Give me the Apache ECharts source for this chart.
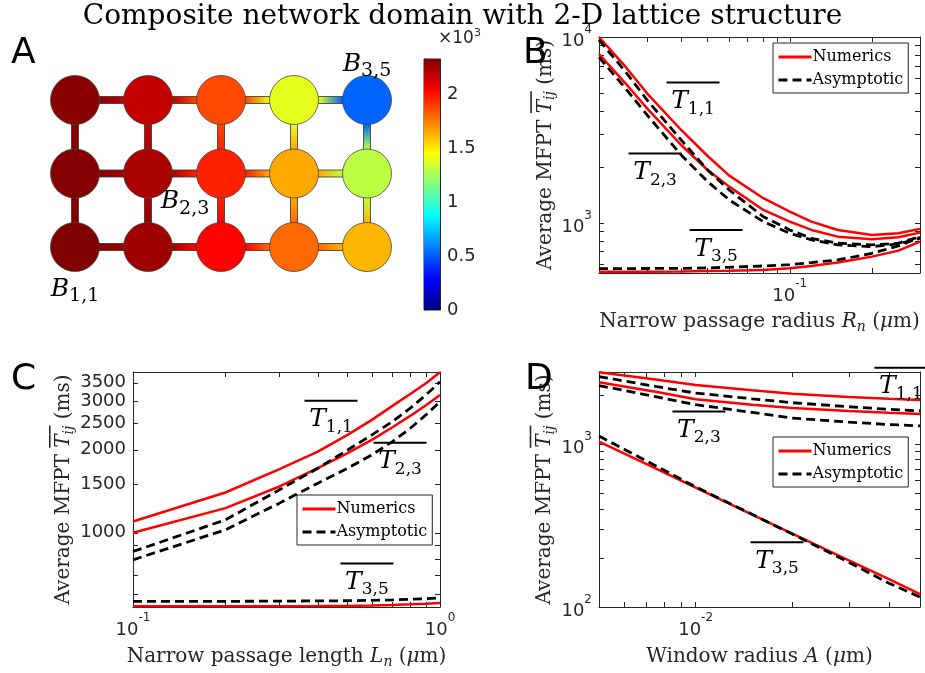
<!DOCTYPE html>
<html>
<head>
<meta charset="utf-8">
<script src="https://cdn.jsdelivr.net/npm/echarts@6/dist/echarts.min.js"></script>
<style>
  html, body { margin: 0; padding: 0; background: #ffffff; }
  #chart { width: 925px; height: 673px; }
</style>
</head>
<body>
<div id="chart"></div>
<script>
// ---------------- data ----------------
// Panel A: mean first passage time (ms) at each lattice node, rows counted from the bottom
const latticeCols = [1, 2, 3, 4, 5];
const latticeRows = [1, 2, 3];
const mfptRow1 = [2320, 2250, 2030, 1800, 1620];
const mfptRow2 = [2310, 2225, 1960, 1650, 1300];
const mfptRow3 = [2300, 2170, 1870, 1390, 520];
const colorbarMax = 2324;
const colorbarTicks = [0, 500, 1000, 1500, 2000];

// Panel B: sweep over narrow passage radius R_n (um)
const radiusRn  = [0.02, 0.025, 0.03, 0.04, 0.05, 0.06, 0.08, 0.1, 0.12, 0.15, 0.2, 0.25, 0.3];
const radT11Num = [10000, 6925, 4980, 3162, 2291, 1797, 1358, 1151, 1016, 917, 862, 880, 929];
const radT23Num = [8100, 5636, 4135, 2626, 1927, 1568, 1175, 1016, 917, 844, 817, 837, 887];
const radT35Num = [547, 547, 547, 548, 551, 553, 559, 570, 587, 612, 659, 710, 794];
const radT11Asy = [9636, 6513, 4585, 2793, 1927, 1504, 1081, 917, 827, 778, 762, 778, 844];
const radT23Asy = [7777, 5297, 3807, 2320, 1668, 1330, 1016, 880, 811, 762, 746, 771, 827];
const radT35Asy = [568, 568, 569, 570, 573, 578, 587, 597, 612, 632, 687, 752, 837];

// Panel C: sweep over narrow passage length L_n (um)
const lengthLn  = [0.1, 0.2, 0.3, 0.4, 0.5, 0.6, 0.7, 0.8, 0.9, 1.0];
const lenT11Num = [1099, 1400, 1701, 1971, 2265, 2567, 2886, 3189, 3485, 3822];
const lenT23Num = [1000, 1229, 1472, 1715, 1944, 2173, 2415, 2654, 2901, 3162];
const lenT35Num = [541, 541, 541, 542, 543, 545, 547, 550, 553, 556];
const lenT11Asy = [855, 1114, 1432, 1715, 1997, 2265, 2532, 2830, 3162, 3533];
const lenT23Asy = [798, 1025, 1281, 1513, 1715, 1917, 2142, 2394, 2676, 2990];
const lenT35Asy = [564, 564, 565, 566, 567, 569, 571, 574, 577, 580];

// Panel D: sweep over window radius A (um)
const windowA   = [0.005, 0.0075, 0.01, 0.015, 0.02, 0.03, 0.04, 0.05];
const winT11Num = [2753, 2480, 2300, 2130, 2030, 1940, 1890, 1862];
const winT23Num = [2390, 2090, 1880, 1740, 1660, 1590, 1550, 1528];
const winT35Num = [1033, 707, 540, 369, 282, 193, 148, 120];
const winT11Asy = [2588, 2250, 2050, 1890, 1790, 1690, 1630, 1594];
const winT23Asy = [2280, 1950, 1740, 1560, 1440, 1360, 1315, 1289];
const winT35Asy = [1119, 735, 545, 370, 280, 188, 140, 115];

// axis ranges and tick values (data units)
const radRange = [0.02, 0.3],   radTicks = [0.03, 0.04, 0.05, 0.06, 0.07, 0.08, 0.09, 0.1, 0.2], radLabels = [0.1];
const radYRange = [538, 10000], radYTicks = [600, 700, 800, 900, 1000, 2000, 3000, 4000, 5000, 6000, 7000, 8000, 9000], radYLabels = [1000, 10000];
const lenRange = [0.1, 1],      lenTicks = [0.2, 0.3, 0.4, 0.5, 0.6, 0.7, 0.8, 0.9], lenLabels = [0.1, 1];
const lenYRange = [538, 3830],  lenYTicks = [600, 700, 800, 900, 1000, 1500, 2000, 2500, 3000, 3500], lenYLabels = [1000, 1500, 2000, 2500, 3000, 3500];
const winRange = [0.005, 0.05], winTicks = [0.006, 0.007, 0.008, 0.009, 0.01, 0.02, 0.03, 0.04], winLabels = [0.01];
const winYRange = [100, 2760],  winYTicks = [200, 300, 400, 500, 600, 700, 800, 900, 1000, 2000], winYLabels = [100, 1000];

// ---------------- styling helpers ----------------
const SERIF = '"DejaVu Serif", "Liberation Serif", serif';
const SANS = '"DejaVu Sans", sans-serif';
const INK = '#262626';
const RED = '#ff0000';
// jet colormap sampled at nine evenly spaced stops
const JET9 = ['#00007f', '#0000ff', '#0080ff', '#00ffff', '#80ff80', '#ffff00', '#ff8000', '#ff0000', '#7f0000'];
const NODE_SIZE = 49;

const lg = Math.log10;
const toLog = arr => arr.map(v => lg(v));
const toPts = (xs, ys) => xs.map((x, i) => [lg(x), lg(ys[i])]);

function hexRgb(h) { return [1, 3, 5].map(i => parseInt(h.slice(i, i + 2), 16)); }
function jet(v) {
  const t = Math.min(1, Math.max(0, v / colorbarMax)) * (JET9.length - 1);
  const i = Math.min(JET9.length - 2, Math.floor(t));
  const f = t - i;
  const a = hexRgb(JET9[i]), b = hexRgb(JET9[i + 1]);
  const c = a.map((x, k) => Math.round(x + (b[k] - x) * f));
  return 'rgb(' + c.join(',') + ')';
}

const powRich = {
  b: { fontFamily: SANS, fontSize: 18, color: INK, lineHeight: 27, verticalAlign: 'bottom' },
  p: { fontFamily: SANS, fontSize: 12, color: INK, lineHeight: 27, verticalAlign: 'top' }
};
const powFmt = v => '{b|10}{p|' + Math.round(v) + '}';
const intFmt = v => String(Math.round(Math.pow(10, v)));

const mfptName = '{g|Average MFPT }{o|T}{os|ij}{g| (ms)}\n{n|Average MFPT }{t|T}{ts|ij}{n| (ms)}';
const NF = 20, NS = 14;
const nameRich = {
  g:  { fontFamily: SERIF, fontSize: NF, color: 'rgba(0,0,0,0)', lineHeight: 5 },
  o:  { fontFamily: SERIF, fontSize: NF, fontStyle: 'italic', color: 'rgba(0,0,0,0)', height: 1.6, backgroundColor: INK, lineHeight: 5 },
  os: { fontFamily: SERIF, fontSize: NS, fontStyle: 'italic', color: 'rgba(0,0,0,0)', height: 1.6, backgroundColor: INK, lineHeight: 5 },
  n:  { fontFamily: SERIF, fontSize: NF, color: INK, lineHeight: 24 },
  t:  { fontFamily: SERIF, fontSize: NF, fontStyle: 'italic', color: INK, lineHeight: 24 },
  ts: { fontFamily: SERIF, fontSize: NS, fontStyle: 'italic', color: INK, lineHeight: 24, verticalAlign: 'bottom' },
  i:  { fontFamily: SERIF, fontSize: NF, fontStyle: 'italic', color: INK, lineHeight: 24 },
  s:  { fontFamily: SERIF, fontSize: NS, fontStyle: 'italic', color: INK, lineHeight: 24, verticalAlign: 'bottom' }
};

const annRich = {
  bar: { width: 53, height: 2, backgroundColor: '#000', lineHeight: 6 },
  t:   { fontFamily: SERIF, fontStyle: 'italic', fontSize: 25, color: '#000', lineHeight: 32 },
  s:   { fontFamily: SERIF, fontSize: 17, color: '#000', lineHeight: 32, verticalAlign: 'bottom' }
};

// ---------------- layout ----------------
const grids = [
  { left: 75,  top: 100, width: 292, height: 147 },   // lattice
  { left: 424, top: 59,  width: 16,  height: 251, show: true, borderColor: INK, borderWidth: 1 }, // colorbar
  { left: 599, top: 37,  width: 321, height: 236 },   // B
  { left: 133, top: 372, width: 307, height: 235 },   // C
  { left: 599, top: 372, width: 321, height: 235 }    // D
].map(g => Object.assign({ containLabel: false, outerBoundsMode: 'none' }, g));

function axis(o) {
  return {
    type: 'value', gridIndex: o.grid, position: o.pos,
    min: o.min, max: o.max,
    name: o.name || '', nameLocation: o.nameLocation || 'middle', nameGap: o.nameGap || 0,
    nameTextStyle: o.nameStyle || {},
    axisLine: { show: true, onZero: false, lineStyle: { color: INK, width: 1 } },
    axisTick: { show: true, inside: true, length: o.tickLen || 5, customValues: o.ticks, lineStyle: { color: INK, width: 1 } },
    axisLabel: o.labels ? {
      show: true, customValues: o.labels, formatter: o.fmt, margin: o.margin || 6,
      color: INK, fontFamily: SANS, fontSize: 18, rich: o.rich
    } : { show: false },
    splitLine: { show: false }
  };
}

const xAxes = [], yAxes = [];
// lattice (hidden axes)
xAxes.push({ type: 'value', gridIndex: 0, min: 1, max: 5, show: false });
yAxes.push({ type: 'value', gridIndex: 0, min: 1, max: 3, show: false });
// colorbar
xAxes.push({ type: 'value', gridIndex: 1, min: 0, max: 1, show: false });
yAxes.push(axis({
  grid: 1, pos: 'right', min: 0, max: colorbarMax, ticks: colorbarTicks.slice(1), labels: colorbarTicks,
  fmt: v => String(v / 1000), margin: 7, tickLen: 4,
  name: '×10{p|3}', nameLocation: 'end', nameGap: 9,
  nameStyle: { align: 'left', padding: [0, 0, 0, -2], fontFamily: SANS, fontSize: 17, color: INK,
    rich: { p: { fontFamily: SANS, fontSize: 11, color: INK, verticalAlign: 'top', lineHeight: 22 } } }
}));
yAxes.push(axis({ grid: 1, pos: 'left', min: 0, max: colorbarMax, ticks: colorbarTicks.slice(1), tickLen: 4 }));

function plotAxes(gi, xr, xt, xl, yr, yt, yl, yfmt, xName, xGap, yGap) {
  const xi = xAxes.length, yi = yAxes.length;
  xAxes.push(axis({ grid: gi, pos: 'bottom', min: lg(xr[0]), max: lg(xr[1]), ticks: toLog(xt), labels: toLog(xl),
    fmt: powFmt, rich: powRich, margin: 5,
    name: xName, nameGap: xGap, nameStyle: { rich: nameRich, color: INK } }));
  xAxes.push(axis({ grid: gi, pos: 'top', min: lg(xr[0]), max: lg(xr[1]), ticks: toLog(xt) }));
  yAxes.push(axis({ grid: gi, pos: 'left', min: lg(yr[0]), max: lg(yr[1]), ticks: toLog(yt), labels: toLog(yl),
    fmt: yfmt, rich: powRich, margin: 7,
    name: mfptName, nameGap: yGap, nameStyle: { rich: nameRich, color: INK } }));
  yAxes.push(axis({ grid: gi, pos: 'right', min: lg(yr[0]), max: lg(yr[1]), ticks: toLog(yt) }));
  return [xi, yi];
}

const [bx, by] = plotAxes(2, radRange, radTicks, radLabels, radYRange, radYTicks, radYLabels, powFmt,
  '{n|Narrow passage radius }{i|R}{s|n}{n| (}{i|μ}{n|m)}', 37, 35);
const [cx, cy] = plotAxes(3, lenRange, lenTicks, lenLabels, lenYRange, lenYTicks, lenYLabels, intFmt,
  '{n|Narrow passage length }{i|L}{s|n}{n| (}{i|μ}{n|m)}', 38, 50);
const [dx, dy] = plotAxes(4, winRange, winTicks, winLabels, winYRange, winYTicks, winYLabels, powFmt,
  '{n|Window radius }{i|A}{n| (}{i|μ}{n|m)}', 38, 42);

// ---------------- series ----------------
const series = [];

// lattice edges with colour gradients between neighbouring nodes
const rowsData = [mfptRow1, mfptRow2, mfptRow3];
const edges = [];
latticeRows.forEach((r, ri) => latticeCols.forEach((c, ci) => {
  if (ci < latticeCols.length - 1) edges.push([c, r, latticeCols[ci + 1], r, rowsData[ri][ci], rowsData[ri][ci + 1]]);
  if (ri < latticeRows.length - 1) edges.push([c, r, c, latticeRows[ri + 1], rowsData[ri][ci], rowsData[ri + 1][ci]]);
}));
series.push({
  type: 'custom', xAxisIndex: 0, yAxisIndex: 0, z: 1, silent: true,
  data: edges,
  renderItem(params, api) {
    const p1 = api.coord([api.value(0), api.value(1)]);
    const p2 = api.coord([api.value(2), api.value(3)]);
    const c1 = jet(api.value(4)), c2 = jet(api.value(5));
    const w = 7;
    const horiz = Math.abs(p2[1] - p1[1]) < 1;
    const len = horiz ? p2[0] - p1[0] : p1[1] - p2[1];
    const f = (NODE_SIZE / 2) / len;
    let shape, grad;
    if (horiz) {
      shape = { x: p1[0], y: p1[1] - w / 2, width: len, height: w };
      grad = new echarts.graphic.LinearGradient(0, 0, 1, 0, [{ offset: f, color: c1 }, { offset: 1 - f, color: c2 }]);
    } else {
      shape = { x: p1[0] - w / 2, y: p2[1], width: w, height: len };
      grad = new echarts.graphic.LinearGradient(0, 1, 0, 0, [{ offset: f, color: c1 }, { offset: 1 - f, color: c2 }]);
    }
    return { type: 'rect', shape, style: { fill: grad, stroke: '#333', lineWidth: 0.8 } };
  }
});

// lattice nodes
const nodeLabelRich = {
  b: { fontFamily: SERIF, fontStyle: 'italic', fontSize: 25, color: '#000', lineHeight: 34 },
  s: { fontFamily: SERIF, fontSize: 19, color: '#000', lineHeight: 34, verticalAlign: 'bottom' }
};
const nodeTagOffsets = { '1,1': [0, 42], '2,3': [-36, 28], '3,5': [0, -36] };
const nodes = [];
latticeRows.forEach((r, ri) => latticeCols.forEach((c, ci) => {
  const key = r + ',' + c;
  const item = { value: [c, r, rowsData[ri][ci]] };
  if (nodeTagOffsets[key]) {
    item.label = { show: true, position: 'inside', offset: nodeTagOffsets[key],
      formatter: '{b|B}{s|' + key + '}', rich: nodeLabelRich };
  }
  nodes.push(item);
}));
series.push({
  type: 'scatter', xAxisIndex: 0, yAxisIndex: 0, z: 2, silent: true,
  symbol: 'circle', symbolSize: NODE_SIZE,
  itemStyle: { borderColor: '#444', borderWidth: 0.8, opacity: 1 },
  label: { show: false },
  data: nodes
});

// colorbar gradient
series.push({
  type: 'custom', xAxisIndex: 1, yAxisIndex: 1, silent: true, z: 1,
  data: [[0, 0, 1, colorbarMax]],
  renderItem(params, api) {
    const a = api.coord([api.value(0), api.value(1)]);
    const b = api.coord([api.value(2), api.value(3)]);
    const stops = JET9.map((c, i) => ({ offset: i / (JET9.length - 1), color: c }));
    return { type: 'rect', shape: { x: a[0], y: b[1], width: b[0] - a[0], height: a[1] - b[1] },
      style: { fill: new echarts.graphic.LinearGradient(0, 1, 0, 0, stops) } };
  }
});

function curve(name, xi, yi, xs, ys, dashed, ann) {
  const s = {
    type: 'line', name, xAxisIndex: xi, yAxisIndex: yi,
    data: toPts(xs, ys), showSymbol: false, symbol: 'none', smooth: false, silent: true,
    clip: true,
    lineStyle: dashed ? { color: '#000', width: 2.8, type: [9, 5] } : { color: RED, width: 2.5 },
    itemStyle: { color: dashed ? '#000' : RED },
    z: dashed ? 4 : 3
  };
  if (ann) {
    // each annotation is anchored at the top of its overline ('bottom') or below its text ('top')
    s.markPoint = {
      silent: true, symbol: 'circle', symbolSize: 0,
      data: ann.map(a => ({ coord: [lg(a.x), lg(a.y)],
        label: { show: true, position: a.pos || 'bottom', distance: 0,
          formatter: '{bar|}\n{t|T}{s|' + a.sub + '}', rich: annRich } }))
    };
  }
  return s;
}

// panel B
series.push(curve('Numerics', bx, by, radiusRn, radT11Num, false, [
  { x: 0.0442, y: 5900, sub: '1,1' }, { x: 0.0321, y: 2450, sub: '2,3' }, { x: 0.0537, y: 950, sub: '3,5' }]));
series.push(curve('Numerics', bx, by, radiusRn, radT23Num, false));
series.push(curve('Numerics', bx, by, radiusRn, radT35Num, false));
series.push(curve('Asymptotic', bx, by, radiusRn, radT11Asy, true));
series.push(curve('Asymptotic', bx, by, radiusRn, radT23Asy, true));
series.push(curve('Asymptotic', bx, by, radiusRn, radT35Asy, true));
// panel C
series.push(curve('Numerics', cx, cy, lengthLn, lenT11Num, false, [
  { x: 0.4416, y: 3090, sub: '1,1' }, { x: 0.741, y: 2175, sub: '2,3' }, { x: 0.578, y: 793, sub: '3,5' }]));
series.push(curve('Numerics', cx, cy, lengthLn, lenT23Num, false));
series.push(curve('Numerics', cx, cy, lengthLn, lenT35Num, false));
series.push(curve('Asymptotic', cx, cy, lengthLn, lenT11Asy, true));
series.push(curve('Asymptotic', cx, cy, lengthLn, lenT23Asy, true));
series.push(curve('Asymptotic', cx, cy, lengthLn, lenT35Asy, true));
// panel D
series.push(curve('Numerics', dx, dy, windowA, winT11Num, false, [
  { x: 0.0436, y: 1790, sub: '1,1', pos: 'top' }, { x: 0.01024, y: 1650, sub: '2,3' }, { x: 0.01793, y: 260, sub: '3,5' }]));
series.push(curve('Numerics', dx, dy, windowA, winT23Num, false));
series.push(curve('Numerics', dx, dy, windowA, winT35Num, false));
series.push(curve('Asymptotic', dx, dy, windowA, winT11Asy, true));
series.push(curve('Asymptotic', dx, dy, windowA, winT23Asy, true));
series.push(curve('Asymptotic', dx, dy, windowA, winT35Asy, true));

function legendAt(left, top) {
  return {
    left, top, orient: 'vertical', selectedMode: false,
    data: ['Numerics', 'Asymptotic'],
    backgroundColor: '#fff', borderColor: INK, borderWidth: 1, borderRadius: 0,
    padding: [6, 5, 5, 4], itemGap: 7, itemWidth: 33, itemHeight: 14,
    itemStyle: { color: 'rgba(0,0,0,0)', borderWidth: 0, opacity: 0 },
    lineStyle: { width: 3 },
    textStyle: { fontFamily: SERIF, fontSize: 16, color: '#000', padding: [0, 0, 0, -4] }
  };
}

const letterStyle = { fontFamily: SANS, fontSize: 36, fontWeight: 'normal', color: '#000' };
const option = {
  backgroundColor: '#ffffff',
  animation: false,
  title: [
    { text: 'Composite network domain with 2-D lattice structure', left: 'center', top: -2,
      textStyle: { fontFamily: SERIF, fontSize: 28, fontWeight: 'normal', color: '#000' } },
    { text: 'A', left: 6, top: 31, textStyle: letterStyle },
    { text: 'B', left: 518, top: 31, textStyle: letterStyle },
    { text: 'C', left: 6, top: 357, textStyle: letterStyle },
    { text: 'D', left: 520, top: 357, textStyle: letterStyle }
  ],
  visualMap: [{
    type: 'continuous', show: false, seriesIndex: 1, dimension: 2,
    min: 0, max: colorbarMax, inRange: { color: JET9 }
  }],
  legend: [legendAt(773, 43), legendAt(297, 495), legendAt(773, 437)],
  grid: grids,
  xAxis: xAxes,
  yAxis: yAxes,
  series
};

const chart = echarts.init(document.getElementById('chart'), null, { renderer: 'canvas' });
chart.setOption(option);
</script>
</body>
</html>
